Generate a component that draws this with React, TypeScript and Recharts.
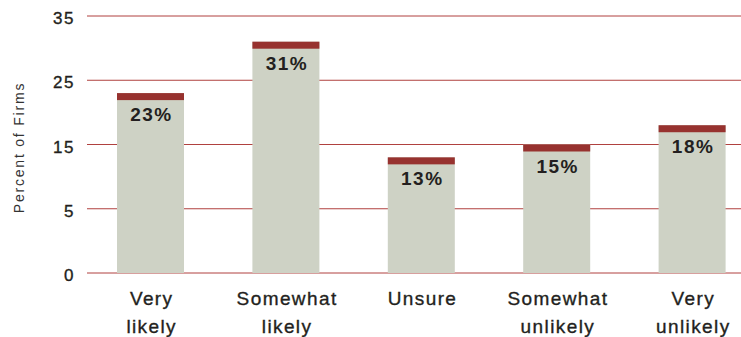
import React from 'react'
import { BarChart, Bar, XAxis, YAxis, CartesianGrid, LabelList } from 'recharts'

const categories = ['Very likely', 'Somewhat likely', 'Unsure', 'Somewhat unlikely', 'Very unlikely']
const shares = [23, 31, 13, 15, 18]
const yTicks = [-5, 5, 15, 25, 35]
const yTickLabels = ['0', '5', '15', '25', '35']
const baseline = -5

const data = categories.map((name, i) => ({
  name,
  share: shares[i],
  range: [baseline, shares[i]],
}))

const font = '"Liberation Sans", Arial, Helvetica, sans-serif'
const ink = '#231f20'

const CappedBar = (props: any) => {
  const { x, y, width, height } = props
  if (!width || !height) return null
  return (
    <g>
      <rect x={x} y={y} width={width} height={height} fill="#ced2c5" />
      <rect x={x} y={y} width={width} height={7} fill="#97322f" />
    </g>
  )
}

const BarValue = (props: any) => {
  const { x, y, width, value } = props
  return (
    <text
      x={x + width / 2 + 1}
      y={y + 28}
      textAnchor="middle"
      fontFamily={font}
      fontWeight="bold"
      fontSize={19}
      letterSpacing={1.5}
      fill={ink}
    >
      {value}%
    </text>
  )
}

const YTick = (props: any) => {
  const { x, y, payload } = props
  const idx = yTicks.indexOf(payload.value)
  return (
    <text
      x={x}
      y={y + 8}
      textAnchor="end"
      fontFamily={font}
      fontSize={17}
      letterSpacing={1.5}
      fill={ink}
      stroke={ink}
      strokeWidth={0.35}
    >
      {yTickLabels[idx]}
    </text>
  )
}

const XTick = (props: any) => {
  const { x, y, payload } = props
  const words = String(payload.value).split(' ')
  return (
    <text
      textAnchor="middle"
      fontFamily={font}
      fontSize={19}
      letterSpacing={1.4}
      fill={ink}
      stroke={ink}
      strokeWidth={0.35}
    >
      {words.map((w, i) => (
        <tspan key={i} x={x + 1} y={y + 32 + i * 28}>
          {w}
        </tspan>
      ))}
    </text>
  )
}

const AxisTitle = (props: any) => {
  const { viewBox } = props
  const cx = viewBox.x + 19
  const cy = viewBox.y + viewBox.height / 2 + 3
  return (
    <text
      x={cx}
      y={cy}
      transform={`rotate(-90 ${cx} ${cy})`}
      textAnchor="middle"
      dominantBaseline="central"
      fontFamily={font}
      fontSize={14}
      letterSpacing={1.8}
      fill="#333"
    >
      Percent of Firms
    </text>
  )
}

export default function App() {
  return (
    <div style={{ position: 'absolute', left: 0, top: 0, width: 741, height: 337, overflow: 'hidden' }}>
      <BarChart width={760} height={337} data={data} margin={{ top: 16, right: 0, bottom: 0, left: 0 }} barSize={67}>
        <CartesianGrid vertical={false} stroke="#b0413f" strokeWidth={1} />
        <XAxis
          dataKey="name"
          height={64}
          tickSize={0}
          tickMargin={0}
          axisLine={false}
          tickLine={false}
          padding={{ left: -4, right: 0 }}
          tick={<XTick />}
          interval={0}
        />
        <YAxis
          width={87}
          domain={[-5, 35]}
          ticks={yTicks}
          tickSize={0}
          tickMargin={12}
          axisLine={false}
          tickLine={false}
          tick={<YTick />}
          label={{ content: <AxisTitle /> }}
        />
        <Bar dataKey="range" shape={<CappedBar />} isAnimationActive={false}>
          <LabelList dataKey="share" content={<BarValue />} />
        </Bar>
      </BarChart>
    </div>
  )
}
